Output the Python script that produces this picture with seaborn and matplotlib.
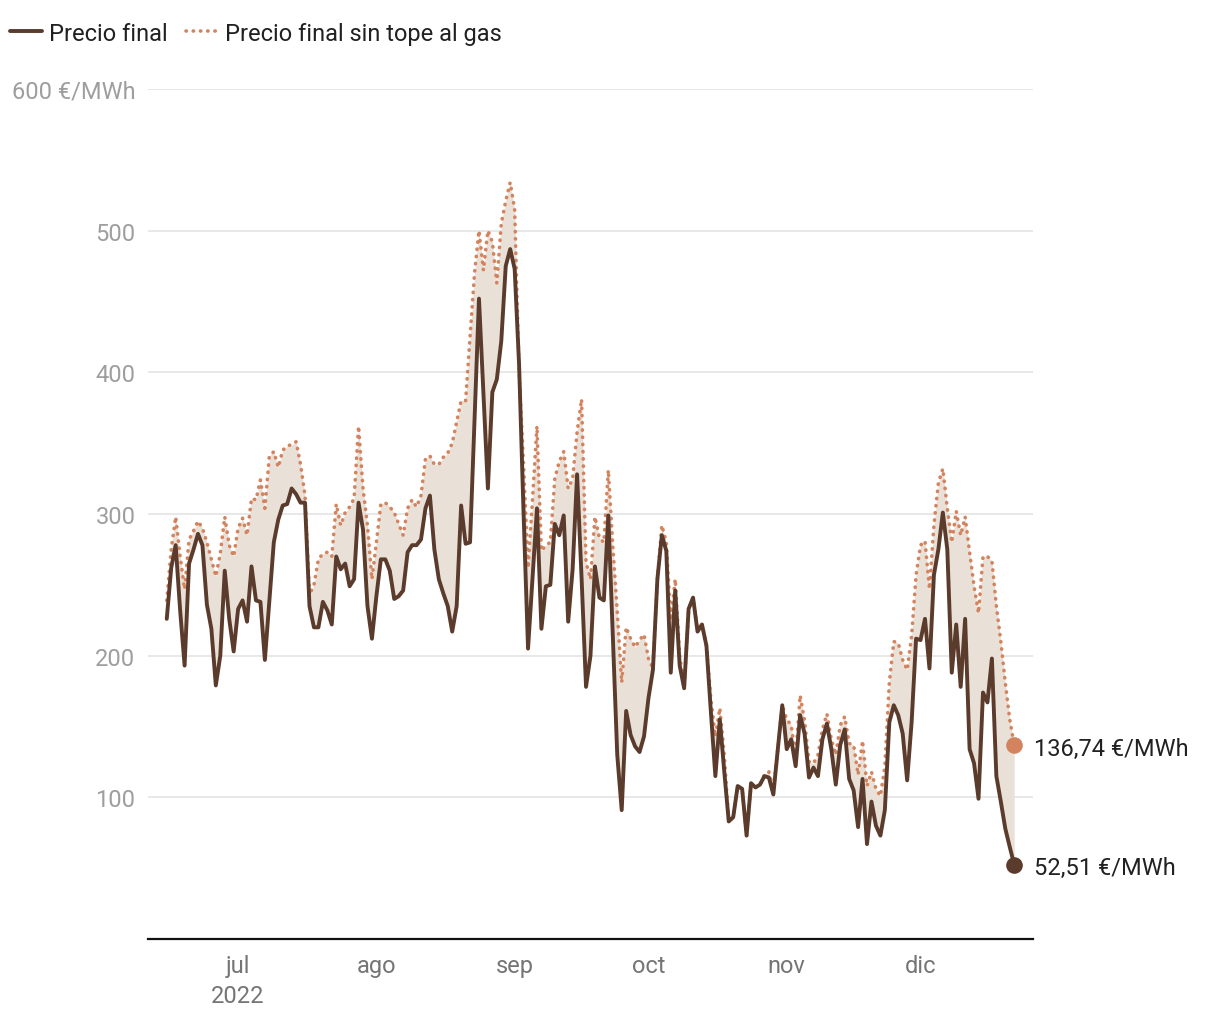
import pandas as pd
import matplotlib
matplotlib.use("Agg")
import matplotlib.pyplot as plt
import seaborn as sns

# daily prices, 15 jun 2022 -> 22 dic 2022
fechas = pd.date_range("2022-06-15", "2022-12-22", freq="D")

precio_final = [
    226, 262, 278, 232, 193, 265, 275, 286, 278, 236,
    219, 179, 200, 260, 226, 203, 233, 239, 224, 263,
    239, 238, 197, 238, 280, 296, 306, 307, 318, 314,
    308, 308, 235, 220, 220, 238, 232, 222, 270, 261,
    265, 249, 254, 308, 289, 235, 212, 242, 268, 268,
    260, 240, 242, 246, 273, 278, 278, 282, 304, 313,
    275, 254, 244, 235, 217, 235, 306, 279, 280, 365,
    452, 385, 318, 386, 395, 422, 475, 487, 473, 405,
    300, 205, 255, 304, 219, 249, 250, 293, 285, 299,
    224, 261, 328, 255, 178, 200, 263, 241, 239, 299,
    215, 130, 91, 161, 144, 136, 132, 143, 170, 190,
    254, 285, 274, 188, 246, 193, 177, 233, 241, 217,
    222, 207, 160, 115, 155, 118, 83, 86, 108, 106,
    73, 110, 107, 109, 115, 114, 102, 134, 165, 134,
    141, 122, 158, 145, 114, 121, 115, 141, 152, 134,
    109, 137, 148, 113, 105, 79, 113, 67, 97, 80,
    73, 91, 153, 165, 158, 145, 112, 153, 212, 211,
    226, 191, 257, 275, 301, 275, 188, 222, 178, 226,
    134, 124, 99, 174, 167, 198, 115, 97, 78, 65,
    52.51,
]

precio_sin_tope = [
    239, 275, 298, 270, 247, 282, 288, 295, 290, 280,
    268, 256, 272, 298, 278, 270, 290, 297, 285, 311,
    310, 324, 304, 341, 344, 333, 345, 348, 349, 351,
    335, 313, 243, 250, 268, 272, 273, 270, 307, 292,
    301, 305, 311, 362, 318, 292, 254, 280, 307, 308,
    305, 301, 293, 285, 304, 310, 305, 313, 339, 341,
    335, 335, 340, 343, 350, 365, 380, 380, 425, 470,
    500, 472, 500, 492, 463, 505, 521, 534, 515, 400,
    335, 262, 310, 362, 274, 278, 280, 325, 337, 344,
    318, 325, 358, 381, 266, 254, 298, 283, 280, 331,
    278, 231, 181, 220, 212, 206, 211, 215, 198, 191,
    254, 292, 280, 225, 254, 200, 177, 233, 241, 217,
    222, 207, 169, 143, 163, 130, 83, 86, 108, 106,
    73, 110, 107, 109, 116, 118, 105, 134, 165, 155,
    151, 128, 172, 154, 125, 124, 130, 148, 159, 141,
    130, 151, 157, 138, 137, 116, 140, 108, 118, 106,
    101, 122, 181, 210, 209, 197, 190, 214, 257, 278,
    281, 247, 292, 322, 332, 304, 280, 302, 285, 298,
    273, 249, 230, 270, 270, 267, 235, 210, 181, 155,
    136.74,
]

meses = ["2022-07-01", "2022-08-01", "2022-09-01", "2022-10-01", "2022-11-01", "2022-12-01"]
meses_labels = ["jul\n2022", "ago", "sep", "oct", "nov", "dic"]
y_ticks = [100, 200, 300, 400, 500, 600]
y_labels = ["100", "200", "300", "400", "500", "600 €/MWh"]

df = pd.DataFrame({"fecha": fechas, "final": precio_final, "sin_tope": precio_sin_tope})

c_final = "#5b3b2c"
c_sin = "#d3845f"
c_fill = "#e9e1d8"
fs = 17

sns.set_theme(style="white")
plt.rcParams["font.family"] = ["Roboto", "DejaVu Sans"]

fig = plt.figure(figsize=(12.2, 10.2), dpi=100)
ax = fig.add_axes([0.1213, 0.0784, 0.7254, 0.8334])

ax.fill_between(df["fecha"], df["final"], df["sin_tope"], color=c_fill, lw=0, zorder=1)
sns.lineplot(data=df, x="fecha", y="sin_tope", ax=ax, color=c_sin, lw=2.6,
             linestyle=(0, (0.1, 1.9)), dash_capstyle="round",
             label="Precio final sin tope al gas", zorder=3)
sns.lineplot(data=df, x="fecha", y="final", ax=ax, color=c_final, lw=2.8,
             label="Precio final", zorder=4)

# end points + labels
last = df.iloc[-1]
ax.scatter([last["fecha"]], [last["sin_tope"]], s=120, color=c_sin, zorder=5, clip_on=False)
ax.scatter([last["fecha"]], [last["final"]], s=120, color=c_final, zorder=5, clip_on=False)
for val in (last["sin_tope"], last["final"]):
    ax.annotate(f"{val:.2f}".replace(".", ",") + " €/MWh", (last["fecha"], val),
                xytext=(14, -2), textcoords="offset points", va="center", ha="left",
                fontsize=fs, color="#212121", annotation_clip=False)

ax.set_ylim(0, 600)
ax.set_xlim(pd.Timestamp("2022-06-10 19:00"), pd.Timestamp("2022-12-26 05:00"))
ax.set_yticks(y_ticks)
ax.set_yticklabels(y_labels)
ax.set_xticks(pd.to_datetime(meses))
ax.set_xticklabels(meses_labels, linespacing=1.35)
ax.tick_params(axis="y", length=0, pad=9, labelsize=fs, labelcolor="#9e9e9e")
ax.tick_params(axis="x", length=0, pad=11, labelsize=fs, labelcolor="#757575")
ax.grid(axis="y", color="#e2e2e2", lw=1.1)
ax.grid(axis="x", visible=False)
ax.set_xlabel("")
ax.set_ylabel("")
for s in ["top", "right", "left"]:
    ax.spines[s].set_visible(False)
ax.spines["bottom"].set_color("#111111")
ax.spines["bottom"].set_linewidth(1.6)
ax.spines["bottom"].set_zorder(6)

handles, labels = ax.get_legend_handles_labels()
order = [labels.index("Precio final"), labels.index("Precio final sin tope al gas")]
ax.get_legend().remove()
fig.legend([handles[i] for i in order], [labels[i] for i in order],
           loc="upper left", bbox_to_anchor=(-0.005, 0.994), ncol=2, frameon=False,
           fontsize=fs, handlelength=1.35, handletextpad=0.3, columnspacing=0.75,
           borderaxespad=0.3, labelcolor="#212121")

fig.savefig("out.png", dpi=100, facecolor="white")
